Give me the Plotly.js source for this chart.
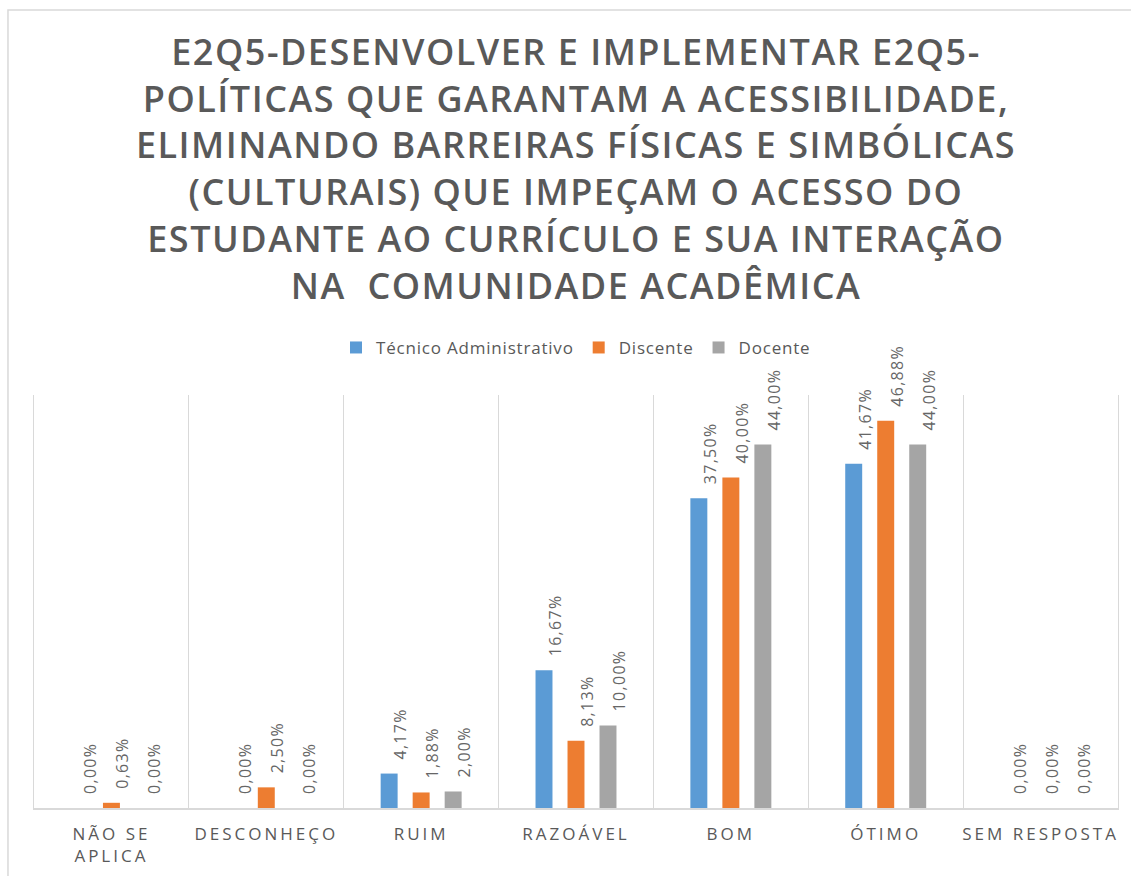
<!DOCTYPE html>
<html>
<head>
<meta charset="utf-8">
<script src="https://cdn.plot.ly/plotly-3.0.1.min.js"></script>
<style>
  html, body { margin: 0; padding: 0; background: #fff; }
  #chart { width: 1131px; height: 876px; }
  .gtitle { letter-spacing: 1.5px; }
  .xtick text { letter-spacing: 3px; }
  .legendtext { letter-spacing: 0.8px; }
  .bartext { letter-spacing: 1.3px; translate: 0px -11px; }
</style>
</head>
<body>
<div id="chart"></div>
<script>
const titleLines = [
  "E2Q5-DESENVOLVER E IMPLEMENTAR E2Q5-",
  "POLÍTICAS QUE GARANTAM A ACESSIBILIDADE,",
  "ELIMINANDO BARREIRAS FÍSICAS E SIMBÓLICAS",
  "(CULTURAIS) QUE IMPEÇAM O ACESSO DO",
  "ESTUDANTE AO CURRÍCULO E SUA INTERAÇÃO",
  "NA\u00a0 COMUNIDADE ACADÊMICA"
];
const categories = ["NÃO SE<br>APLICA", "DESCONHEÇO", "RUIM", "RAZOÁVEL", "BOM", "ÓTIMO", "SEM RESPOSTA"];
const seriesNames = ["Técnico Administrativo", "Discente", "Docente"];
const tecnico = [0.00, 0.00, 4.17, 16.67, 37.50, 41.67, 0.00];
const discente = [0.63, 2.50, 1.88, 8.13, 40.00, 46.88, 0.00];
const docente = [0.00, 0.00, 2.00, 10.00, 44.00, 44.00, 0.00];
const colors = ["#5B9BD5", "#ED7D31", "#A5A5A5"];

const textColor = "#595959";
const labelColor = "#666666";
const values = [tecnico, discente, docente];

const data = values.map((v, i) => ({
  type: "bar",
  name: seriesNames[i],
  x: categories,
  y: v,
  marker: { color: colors[i] },
  texttemplate: "%{y:.2f}%",
  textposition: "outside",
  textangle: -90,
  constraintext: "none",
  cliponaxis: false,
  textfont: { family: "Open Sans", size: 16, color: labelColor },
  hoverinfo: "x+y+name"
}));

const layout = {
  width: 1131,
  height: 876,
  separators: ",.",
  paper_bgcolor: "#ffffff",
  plot_bgcolor: "#ffffff",
  margin: { l: 34, r: 13, t: 395, b: 68 },
  title: {
    text: titleLines.join("<br>"),
    font: { family: "Open Sans", size: 36, color: textColor, weight: 600 },
    x: 0.5,
    xanchor: "center",
    xref: "paper",
    yref: "container",
    y: 0.926,
    yanchor: "top"
  },
  showlegend: true,
  legend: {
    orientation: "h",
    x: 0.5,
    xanchor: "center",
    y: 1.114,
    yanchor: "middle",
    font: { family: "Open Sans", size: 17, color: textColor },
    itemclick: false
  },
  barmode: "group",
  bargap: 0.38,
  bargroupgap: 0.47,
  xaxis: {
    type: "category",
    tickson: "boundaries",
    showgrid: true,
    gridcolor: "#d9d9d9",
    gridwidth: 1,
    showline: true,
    linecolor: "#d9d9d9",
    linewidth: 1.5,
    ticks: "",
    ticklabelstandoff: 10,
    tickfont: { family: "Open Sans", size: 17, color: textColor },
    fixedrange: true
  },
  yaxis: {
    range: [0, 50],
    showgrid: false,
    zeroline: false,
    showticklabels: false,
    showline: true,
    mirror: true,
    linecolor: "#d9d9d9",
    linewidth: 1,
    ticks: "",
    fixedrange: true
  },
  shapes: [{
    type: "rect",
    xref: "paper",
    yref: "paper",
    x0: -0.024,
    x1: 1.05,
    y0: -0.3,
    y1: 1.932,
    line: { color: "#d9d9d9", width: 1.5 },
    fillcolor: "rgba(0,0,0,0)",
    layer: "above"
  }]
};

Plotly.newPlot("chart", data, layout, { displayModeBar: false, staticPlot: false });
</script>
</body>
</html>
